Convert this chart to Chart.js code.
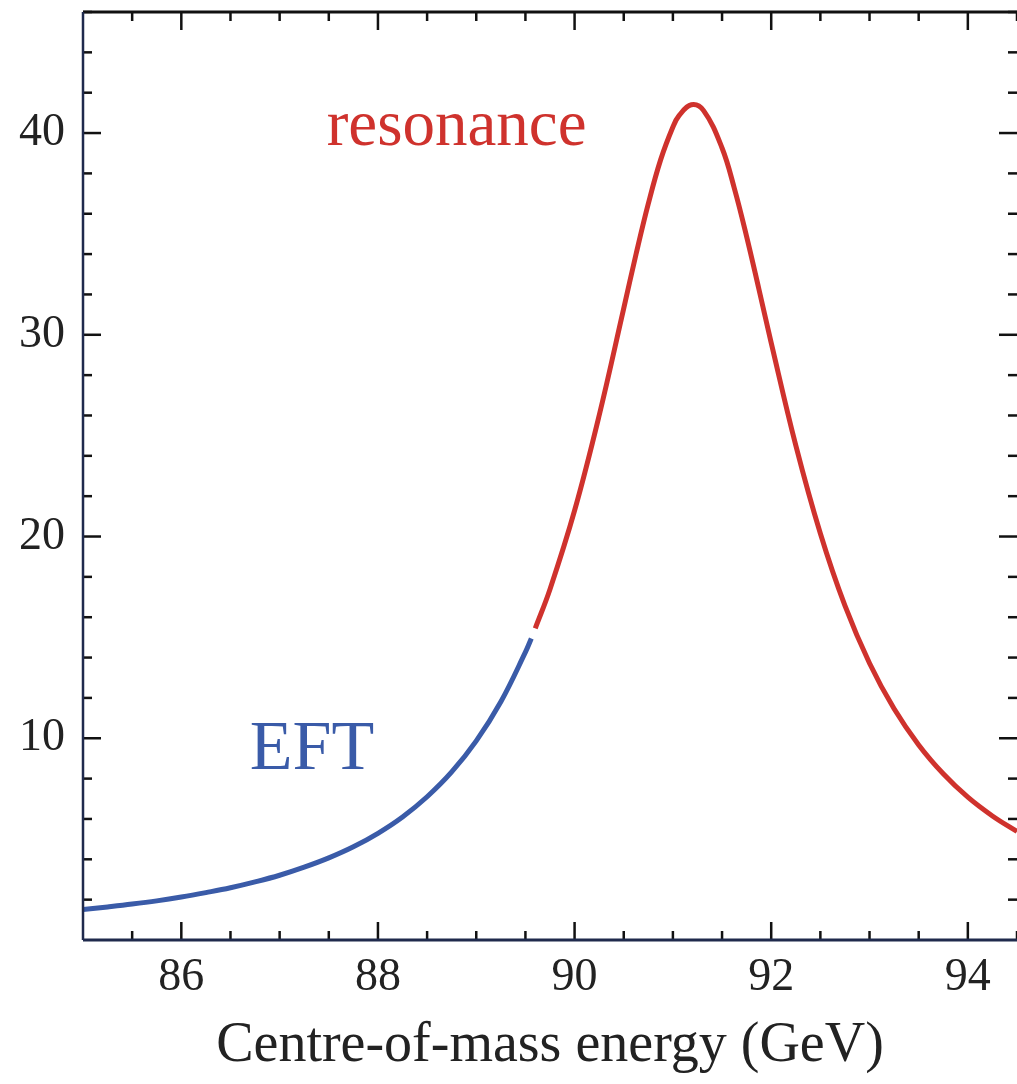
<!DOCTYPE html>
<html>
<head>
<meta charset="utf-8">
<script src="https://cdn.jsdelivr.net/npm/chart.js@4/dist/chart.umd.min.js"></script>
<style>
  body { margin: 0; background: #fff; }
  canvas { display: block; }
</style>
</head>
<body>
<canvas id="myChart" width="1017" height="1084"></canvas>
<script>
// values (GeV, arbitrary units)
const eftEnergy = [85, 85.25, 85.5, 85.75, 86, 86.25, 86.5, 86.75, 87, 87.25, 87.5, 87.75,
  88, 88.25, 88.5, 88.75, 89, 89.25, 89.5, 89.56];
const eftValues = [1.51, 1.64, 1.78, 1.94, 2.13, 2.35, 2.59, 2.88, 3.21, 3.61, 4.07, 4.62,
  5.29, 6.10, 7.10, 8.33, 9.87, 11.81, 14.27, 14.95];

const resEnergy = [89.6, 89.75, 90, 90.25, 90.5, 90.625, 90.75, 90.875, 91, 91.0625, 91.1875,
  91.3125, 91.5, 91.625, 91.75, 91.875, 92, 92.25, 92.5, 92.75, 93, 93.25, 93.5, 93.75, 94,
  94.25, 94.5];
const resValues = [15.45, 17.39, 21.29, 26.00, 31.31, 33.99, 36.50, 38.67, 40.30, 40.86, 41.40,
  41.11, 39.26, 37.26, 34.87, 32.26, 29.60, 24.52, 20.15, 16.57, 13.72, 11.46, 9.67, 8.24, 7.08,
  6.15, 5.38];

const xMajorTicks = [86, 88, 90, 92, 94];
const xMinorTicks = [85.5, 86.5, 87, 87.5, 88.5, 89, 89.5, 90.5, 91, 91.5, 92.5, 93, 93.5, 94.5];
const yMajorTicks = [10, 20, 30, 40];
const yMinorTicks = [2, 4, 6, 8, 12, 14, 16, 18, 22, 24, 26, 28, 32, 34, 36, 38, 42, 44, 46];

const blue = "#3a5ba8";
const red = "#cf322d";
const serif = "'Liberation Serif', 'DejaVu Serif', serif";

const toPoints = (xs, ys) => xs.map((x, i) => ({ x: x, y: ys[i] }));

// frame, inward ticks and the two curve labels
const framePlugin = {
  id: "frame",
  afterDraw(chart) {
    const { ctx, chartArea: a, scales } = chart;
    const xs = scales.x, ys = scales.y;
    ctx.save();
    ctx.strokeStyle = "#111";
    ctx.lineWidth = 2.5;
    const tick = (x1, y1, x2, y2) => {
      ctx.beginPath(); ctx.moveTo(x1, y1); ctx.lineTo(x2, y2); ctx.stroke();
    };
    xMajorTicks.forEach(v => {
      const p = xs.getPixelForValue(v);
      tick(p, a.bottom, p, a.bottom - 18);
      tick(p, a.top, p, a.top + 18);
    });
    xMinorTicks.forEach(v => {
      const p = xs.getPixelForValue(v);
      tick(p, a.bottom, p, a.bottom - 9);
      tick(p, a.top, p, a.top + 9);
    });
    yMajorTicks.forEach(v => {
      const p = ys.getPixelForValue(v);
      tick(a.left, p, a.left + 18, p);
      tick(a.right, p, a.right - 18, p);
    });
    yMinorTicks.forEach(v => {
      const p = ys.getPixelForValue(v);
      tick(a.left, p, a.left + 9, p);
      tick(a.right, p, a.right - 9, p);
    });

    // box
    ctx.lineWidth = 3;
    ctx.strokeStyle = "#111";
    tick(a.left, a.top, a.right, a.top);
    ctx.strokeStyle = "#1f2a4d";
    tick(a.left, a.bottom, a.right, a.bottom);
    ctx.lineWidth = 2.5;
    tick(a.left, a.top, a.left, a.bottom);

    // labels
    ctx.textAlign = "center";
    ctx.textBaseline = "alphabetic";
    ctx.font = "65px " + serif;
    ctx.fillStyle = red;
    ctx.fillText("resonance", xs.getPixelForValue(88.8), ys.getPixelForValue(39.4));
    ctx.fillStyle = blue;
    ctx.font = "70px " + serif;
    ctx.fillText("EFT", xs.getPixelForValue(87.33), ys.getPixelForValue(8.47));
    ctx.restore();
  }
};

const ctx = document.getElementById("myChart").getContext("2d");
const myChart = new Chart(ctx, {
  type: "line",
  data: {
    datasets: [
      {
        label: "EFT",
        data: toPoints(eftEnergy, eftValues),
        borderColor: blue,
        borderWidth: 5,
        pointRadius: 0,
        tension: 0.4,
        fill: false,
      },
      {
        label: "resonance",
        data: toPoints(resEnergy, resValues),
        borderColor: red,
        borderWidth: 5,
        pointRadius: 0,
        tension: 0.4,
        fill: false,
      },
    ],
  },
  options: {
    responsive: false,
    animation: false,
    layout: { padding: { top: 12, right: 0, left: 0, bottom: 0 } },
    plugins: {
      legend: { display: false },
      tooltip: { enabled: false },
    },
    scales: {
      x: {
        type: "linear",
        min: 85,
        max: 94.5,
        grid: { display: false, drawTicks: false },
        border: { display: false },
        afterBuildTicks: s => { s.ticks = xMajorTicks.map(v => ({ value: v })); },
        afterFit: s => { s.height = 144; s.paddingLeft = 0; s.paddingRight = 0; },
        ticks: {
          padding: 10,
          color: "#222",
          maxRotation: 0,
          font: { family: serif, size: 46 },
        },
        title: {
          display: true,
          text: "Centre-of-mass energy (GeV)",
          color: "#222",
          font: { family: serif, size: 56 },
          padding: { top: 12 },
        },
      },
      y: {
        min: 0,
        max: 46,
        grid: { display: false, drawTicks: false },
        border: { display: false },
        afterBuildTicks: s => { s.ticks = yMajorTicks.map(v => ({ value: v })); },
        afterFit: s => { s.width = 83; s.paddingTop = 0; s.paddingBottom = 0; },
        ticks: {
          padding: 18,
          color: "#222",
          font: { family: serif, size: 46 },
        },
      },
    },
  },
  plugins: [framePlugin],
});
</script>
</body>
</html>
